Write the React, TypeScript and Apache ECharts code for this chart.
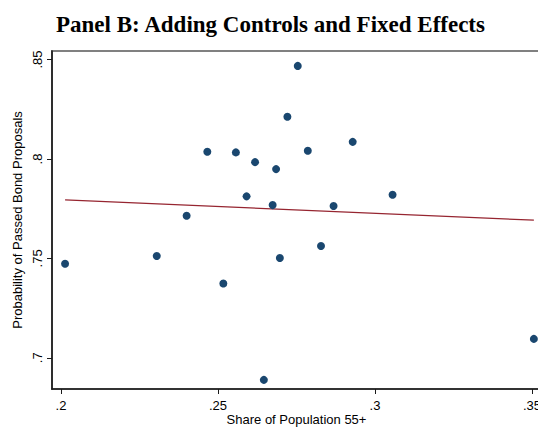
import React, { useEffect, useRef } from "react";
import * as echarts from "echarts";

const title = "Panel B: Adding Controls and Fixed Effects";
const xName = "Share of Population 55+";
const yName = "Probability of Passed Bond Proposals";

const xTicks = [0.2, 0.25, 0.3, 0.35];
const yTicks = [0.7, 0.75, 0.8, 0.85];

const shareX = [
  0.2013, 0.2305, 0.24, 0.2466, 0.2517, 0.2557, 0.2591, 0.2618, 0.2646, 0.2674,
  0.2685, 0.2697, 0.2721, 0.2754, 0.2786, 0.2828, 0.2868, 0.2929, 0.3056, 0.3506,
];
const probY = [
  0.7473, 0.7512, 0.7714, 0.8036, 0.7374, 0.8033, 0.7812, 0.7984, 0.6889, 0.7768,
  0.7949, 0.7502, 0.8212, 0.8468, 0.8041, 0.7562, 0.7763, 0.8086, 0.782, 0.7095,
];

const fitX = [0.2013, 0.3506];
const fitY = [0.7794, 0.7692];

const fmt = (v: number) => {
  const s = String(Math.round(v * 100) / 100);
  return s.replace(/^0/, "");
};

export default function App() {
  const ref = useRef<HTMLDivElement>(null);
  useEffect(() => {
    if (!ref.current) return;
    const chart = echarts.init(ref.current, null, { renderer: "svg" });
    const font = "Liberation Sans";
    chart.setOption({
      animation: false,
      backgroundColor: "#ffffff",
      title: {
        text: title,
        left: "center",
        top: 8,
        textStyle: {
          fontFamily: "Liberation Serif",
          fontWeight: "bold",
          fontSize: 23,
          color: "#000",
        },
      },
      grid: {
        left: 52,
        right: 0,
        top: 51,
        bottom: 39,
        outerBoundsMode: "none",
        containLabel: false,
        show: true,
        borderColor: "#808080",
        borderWidth: 2,
        backgroundColor: "#fff",
      },
      xAxis: {
        type: "value",
        min: 0.19713,
        max: 0.35287,
        name: xName,
        nameLocation: "middle",
        nameGap: 24,
        nameMoveOverlap: false,
        nameTextStyle: { fontFamily: font, fontSize: 13, color: "#000" },
        splitLine: { show: false },
        axisLine: { show: true, onZero: false, lineStyle: { color: "#1a1a1a", width: 1.6 } },
        axisTick: {
          show: true,
          length: 5,
          customValues: xTicks,
          lineStyle: { color: "#1a1a1a", width: 1 },
        },
        axisLabel: {
          customValues: xTicks,
          formatter: (v: number) => fmt(v),
          fontFamily: font,
          fontSize: 13,
          color: "#000",
          margin: 10,
          showMinLabel: true,
          showMaxLabel: true,
          hideOverlap: false,
        },
      },
      yAxis: {
        type: "value",
        min: 0.6843,
        max: 0.8543,
        name: yName,
        nameLocation: "middle",
        nameGap: 28,
        nameMoveOverlap: false,
        nameRotate: 90,
        nameTextStyle: { fontFamily: font, fontSize: 13, color: "#000" },
        splitLine: { show: false },
        axisLine: { show: true, onZero: false, lineStyle: { color: "#1a1a1a", width: 1.6 } },
        axisTick: {
          show: true,
          length: 5,
          customValues: yTicks,
          lineStyle: { color: "#1a1a1a", width: 1 },
        },
        axisLabel: {
          customValues: yTicks,
          formatter: (v: number) => fmt(v),
          rotate: 90,
          fontFamily: font,
          fontSize: 13,
          color: "#000",
          margin: 8,
        },
      },
      series: [
        {
          type: "line",
          data: fitX.map((x, i) => [x, fitY[i]]),
          showSymbol: false,
          symbol: "none",
          lineStyle: { color: "#962530", width: 1.2 },
          z: 1,
        },
        {
          type: "scatter",
          data: shareX.map((x, i) => [x, probY[i]]),
          symbol: "circle",
          symbolSize: 8,
          itemStyle: { color: "#1a476f", opacity: 1 },
          z: 2,
        },
      ],
    });
    return () => chart.dispose();
  }, []);
  return (
    <div style={{ position: "fixed", left: 0, top: 0, width: 538, height: 428, overflow: "hidden" }}>
      <div ref={ref} style={{ width: 541, height: 428 }} />
    </div>
  );
}
